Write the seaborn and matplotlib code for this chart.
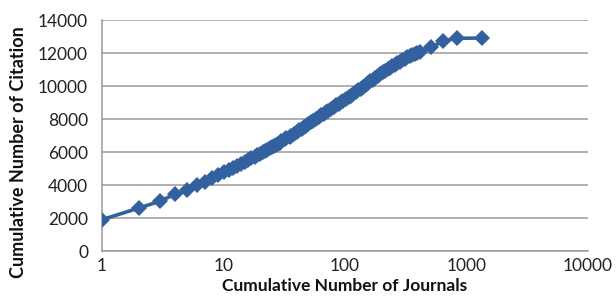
import matplotlib
matplotlib.use('Agg')
import matplotlib.pyplot as plt
import seaborn as sns
import pandas as pd
from matplotlib.ticker import FixedLocator, NullLocator

# values
journals = [1, 2, 3, 4, 5, 6, 7, 8, 9, 10, 11, 12, 13, 14, 15, 16, 17, 18, 19, 20,
            21, 22, 23, 24, 25, 26, 27, 28, 29, 30, 32, 33, 35, 36, 38, 40, 42, 44,
            46, 48, 50, 53, 55, 58, 61, 64, 67, 70, 73, 77, 81, 85, 89, 93, 97,
            102, 107, 112, 117, 123, 129, 135, 141, 148, 155, 162, 170, 178, 186,
            195, 204, 214, 224, 235, 246, 258, 270, 283, 296, 310, 325, 340, 357,
            375, 395, 415, 515, 645, 830, 1334]
citations = [1900, 2600, 3020, 3450, 3700, 4000, 4200, 4400, 4600, 4780, 4920, 5010,
             5150, 5280, 5400, 5510, 5610, 5710, 5800, 5880,
             5980, 6070, 6150, 6220, 6300, 6370, 6430, 6500, 6570, 6640, 6760, 6830,
             6940, 7000, 7110, 7220, 7320, 7420, 7510, 7600, 7690, 7820, 7900, 8010,
             8120, 8220, 8320, 8420, 8510, 8620, 8730, 8830, 8930, 9020, 9110,
             9210, 9320, 9420, 9510, 9620, 9730, 9840, 9950, 10060, 10170, 10280,
             10390, 10500, 10610, 10720, 10820, 10920, 11010, 11110, 11200, 11300,
             11390, 11480, 11560, 11650, 11740, 11820, 11890, 11950, 12010, 12060,
             12350, 12740, 12890, 12910]
x_ticks = [1, 10, 100, 1000, 10000]
y_ticks = [0, 2000, 4000, 6000, 8000, 10000, 12000, 14000]

df = pd.DataFrame({'journals': journals, 'citations': citations})

sns.set_theme(style="white")
plt.rcParams['font.family'] = ['Lato', 'DejaVu Sans']

fig = plt.figure(figsize=(6.16, 2.99), dpi=100)
ax = fig.add_axes([0.1656, 0.1605, 0.7889, 0.7725])

sns.lineplot(data=df, x='journals', y='citations', ax=ax, color='#33609F',
             linewidth=2.6, marker='D', markersize=8.5, markeredgewidth=0,
             zorder=3)

ax.set_xscale('log')
ax.set_xlim(1, 10000)
ax.set_ylim(0, 14000)
ax.xaxis.set_major_locator(FixedLocator(x_ticks))
ax.xaxis.set_minor_locator(NullLocator())
ax.set_xticklabels([str(t) for t in x_ticks])
ax.set_yticks(y_ticks)
ax.set_yticklabels([str(t) for t in y_ticks])
ax.tick_params(axis='both', labelsize=12.5, colors='#222222', length=0, pad=10)
ax.tick_params(axis='x', pad=5)

ax.yaxis.grid(True, color='#9a9a9a', linewidth=1.1)
ax.xaxis.grid(False)
for side in ['top', 'right']:
    ax.spines[side].set_visible(False)
for side in ['left', 'bottom']:
    ax.spines[side].set_color('#9a9a9a')
    ax.spines[side].set_linewidth(1.1)

ax.set_xlabel('Cumulative Number of Journals', fontsize=12.5, fontweight='bold',
              color='#111111', labelpad=3)
ax.set_ylabel('Cumulative Number of Citation', fontsize=13, fontweight='bold',
              color='#111111')
ax.yaxis.set_label_coords(-0.155, 0.43)

fig.savefig('out.png', dpi=100, facecolor='white')
